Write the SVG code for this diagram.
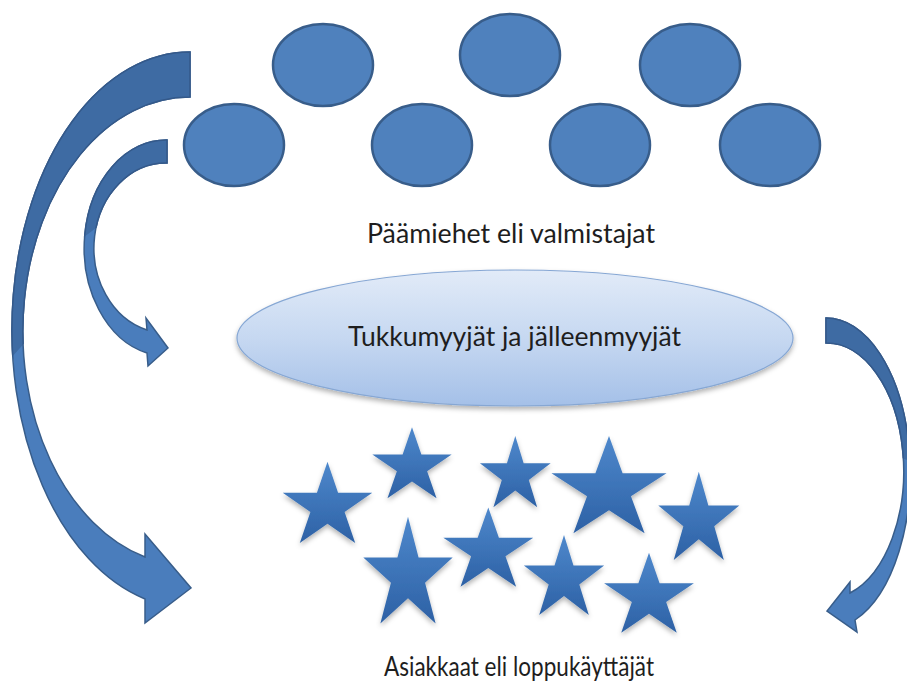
<svg xmlns="http://www.w3.org/2000/svg" xmlns:xlink="http://www.w3.org/1999/xlink" width="907" height="687" viewBox="0 0 907 687">
<style>
.circ{fill:#4F81BD;stroke:#385D8A;stroke-width:2.5}
.front{fill:#4A7DBC;stroke:#385D8A;stroke-width:1.5}
.back{fill:#3E6BA3;stroke:#34598A;stroke-width:1.5}
.star{fill:url(#starGrad)}
.lbl{font-family:Lato,"Open Sans","Liberation Sans",sans-serif;fill:#1e1e1e}
</style>
<defs>
<linearGradient id="starGrad" x1="0" y1="0" x2="0" y2="1">
<stop offset="0" stop-color="#4E88CC"/>
<stop offset="1" stop-color="#2D61A5"/>
</linearGradient>
<linearGradient id="ellGrad" x1="0" y1="0" x2="0" y2="1">
<stop offset="0" stop-color="#E2EBF8"/>
<stop offset="0.5" stop-color="#C6D8F1"/>
<stop offset="1" stop-color="#A4C0E8"/>
</linearGradient>
<filter id="shadow" x="-20%" y="-20%" width="140%" height="150%">
<feDropShadow dx="0" dy="3" stdDeviation="2.5" flood-color="#000" flood-opacity="0.3"/>
</filter>
<path id="starShape" d="M0,-1 L0.2245,-0.309 L0.951,-0.309 L0.363,0.118 L0.588,0.809 L0,0.382 L-0.588,0.809 L-0.363,0.118 L-0.951,-0.309 L-0.2245,-0.309 Z"/>
<clipPath id="clipBig"><polygon points="0,0 200,0 200,150 0,370"/></clipPath>
<clipPath id="clipSmall"><polygon points="0,0 200,0 200,150 0,300"/></clipPath>
<clipPath id="clipRight"><polygon points="800,0 907,0 907,460 800,420"/></clipPath>
<path id="bigArrow" d="M190,52 A178,278 0 0,0 145,599 L145,623 L191,588 L145,534 L145,557 A167,234.3 0 0,1 190,97 Z"/>
<path id="smallArrow" d="M167,140 A82,108 0 0,0 147,353 L148,366 L168,348 L146,318 L147,330 A72,85 0 0,1 167,163 Z"/>
<path id="rightArrow" d="M826,318 A84,155.7 0 0,1 855,620 L857,632 L827,611 L850,582 L850,593 A77,128 0 0,0 826,343 Z"/>
</defs>

<g id="connectors">
<g id="arrow-left-outer">
<use href="#bigArrow" class="front"/>
<use href="#bigArrow" class="back" clip-path="url(#clipBig)"/>
</g>
<g id="arrow-left-inner">
<use href="#smallArrow" class="front"/>
<use href="#smallArrow" class="back" clip-path="url(#clipSmall)"/>
</g>
<g id="arrow-right">
<use href="#rightArrow" class="front"/>
<use href="#rightArrow" class="back" clip-path="url(#clipRight)"/>
</g>
</g>

<g id="manufacturers">
<ellipse class="circ" cx="323" cy="65" rx="50" ry="41"/>
<ellipse class="circ" cx="510" cy="55" rx="50" ry="41"/>
<ellipse class="circ" cx="690" cy="65" rx="50" ry="41"/>
<ellipse class="circ" cx="234" cy="145" rx="50" ry="41"/>
<ellipse class="circ" cx="422" cy="145" rx="50" ry="41"/>
<ellipse class="circ" cx="600" cy="145" rx="50" ry="41"/>
<ellipse class="circ" cx="770" cy="145" rx="50" ry="41"/>
<text class="lbl" x="367" y="243" font-size="27" textLength="288" lengthAdjust="spacingAndGlyphs">Päämiehet eli valmistajat</text>
</g>

<g id="wholesalers">
<ellipse cx="515" cy="338" rx="278" ry="68" fill="url(#ellGrad)" stroke="#86A7D4" stroke-width="1.2" filter="url(#shadow)"/>
<text class="lbl" x="348" y="346" font-size="27" textLength="333" lengthAdjust="spacingAndGlyphs">Tukkumyyjät ja jälleenmyyjät</text>
</g>

<g id="customers">
<g filter="url(#shadow)">
<use href="#starShape" class="star" transform="translate(327.5,506.6) scale(47.1,44.9)"/>
<use href="#starShape" class="star" transform="translate(412,466.5) scale(41.7,39.2)"/>
<use href="#starShape" class="star" transform="translate(515.3,475.4) scale(37.2,39.4)"/>
<use href="#starShape" class="star" transform="translate(609,489.8) scale(60.5,53.8)"/>
<use href="#starShape" class="star" transform="translate(698.8,520.5) scale(42.6,48.8)"/>
<use href="#starShape" class="star" transform="translate(408,575.7) scale(47,59)"/>
<use href="#starShape" class="star" transform="translate(488.3,551.2) scale(47.3,43.8)"/>
<use href="#starShape" class="star" transform="translate(564,579.2) scale(42.2,44.2)"/>
<use href="#starShape" class="star" transform="translate(649,596.9) scale(47.2,44.2)"/>
</g>
<text class="lbl" x="384" y="676" font-size="26" textLength="270" lengthAdjust="spacingAndGlyphs">Asiakkaat eli loppukäyttäjät</text>
</g>
</svg>
